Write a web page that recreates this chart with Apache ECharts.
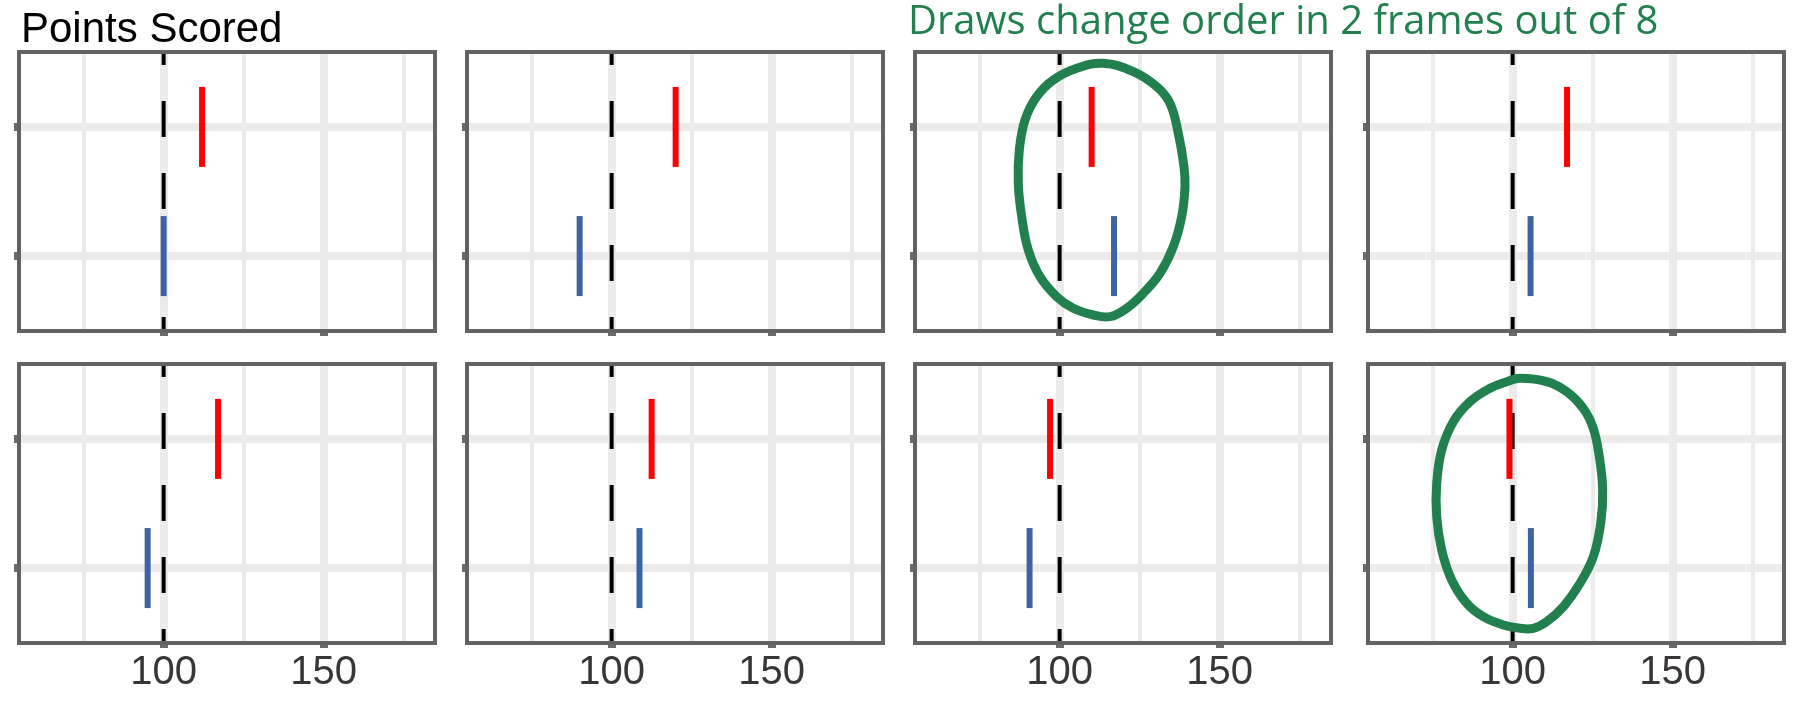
<!DOCTYPE html>
<html><head><meta charset="utf-8">
<script src="https://cdn.jsdelivr.net/npm/echarts@6/dist/echarts.min.js"></script>
<style>html,body{margin:0;padding:0;background:#fff}#c{width:1800px;height:702px}</style>
</head><body><div id="c"></div>
<script>
// ---- data ----
const frames = [1, 2, 3, 4, 5, 6, 7, 8];
const redScores  = [112, 120, 110, 117, 117, 112.5, 97, 99];     // top category
const blueScores = [100, 90, 117, 105.6, 95, 108.7, 90.6, 105.7]; // bottom category
const teamPos = { red: 2, blue: 1 };
const majorTicks = [100, 150];
const minorTicks = [75, 125, 175];
const refValue = 100;
const xRange = [54.8, 184.8];
const yRange = [0.42, 2.58];
const titleText = 'Points Scored';
const noteText = 'Draws change order in 2 frames out of 8';
const circledFrames = [3, 8];

// ---- layout ----
const colLeft = [19, 467, 915, 1368];
const rowTop = [52, 364];
const W = 416, H = 279;
const grid = '#ecebe9', border = '#636363', green = '#22804f';

const grids = [], xAxes = [], yAxes = [], series = [], graphics = [];
frames.forEach((f, i) => {
  const r = Math.floor(i / 4), c = i % 4;
  const bottomRow = r === 1;
  grids.push({ left: colLeft[c], top: rowTop[r], width: W, height: H, containLabel: false });
  xAxes.push({
    type: 'value', gridIndex: i, min: xRange[0], max: xRange[1], position: 'bottom',
    axisLine: { show: false },
    axisTick: { show: true, customValues: majorTicks, length: 5, lineStyle: { color: '#6a6a6a', width: 8 } },
    axisLabel: { show: bottomRow, customValues: majorTicks, margin: 10, fontSize: 40,
                 fontFamily: 'Liberation Sans', color: '#3a3536' },
    splitLine: { show: true, lineStyle: { color: grid, width: 8 } }
  });
  xAxes.push({
    type: 'value', gridIndex: i, min: xRange[0], max: xRange[1], position: 'top',
    axisLine: { show: false },
    axisTick: { show: false, customValues: minorTicks },
    axisLabel: { show: false, customValues: minorTicks },
    splitLine: { show: true, lineStyle: { color: grid, width: 4 } }
  });
  yAxes.push({
    type: 'value', gridIndex: i, min: yRange[0], max: yRange[1],
    axisLine: { show: false },
    axisTick: { show: true, customValues: [teamPos.blue, teamPos.red], length: 5, lineStyle: { color: '#6a6a6a', width: 8 } },
    axisLabel: { show: false, customValues: [teamPos.blue, teamPos.red] },
    splitLine: { show: true, lineStyle: { color: grid, width: 8 } }
  });
  series.push({
    type: 'line', xAxisIndex: 2 * i, yAxisIndex: i, z: 2,
    data: [[refValue, yRange[0]], [refValue, yRange[1]]],
    symbol: 'none', silent: true,
    lineStyle: { color: '#000', width: 4, type: [36, 36], dashOffset: 22 }
  });
  series.push({
    type: 'scatter', xAxisIndex: 2 * i, yAxisIndex: i, z: 3,
    symbol: 'rect', symbolSize: [6, 80],
    itemStyle: { color: '#ff0000', opacity: 1 },
    data: [[redScores[i], teamPos.red]]
  });
  series.push({
    type: 'scatter', xAxisIndex: 2 * i, yAxisIndex: i, z: 3,
    symbol: 'rect', symbolSize: [6, 80],
    itemStyle: { color: '#3c64a5', opacity: 1 },
    data: [[blueScores[i], teamPos.blue]]
  });
  graphics.push({
    type: 'rect', z: 50, silent: true,
    shape: { x: colLeft[c], y: rowTop[r], width: W, height: H },
    style: { fill: 'none', stroke: border, lineWidth: 4 }
  });
});

// hand-drawn loops (annotation outline, page pixels)
const loopShapes = {
  3: [[1103.3,63.3],[1133.3,71.7],[1156.7,86.7],[1170,103.3],[1178.3,133.3],[1184,166.7],[1185,186.7],[1181.7,216.7],[1173.3,246.7],[1160,273.3],[1143.3,293.3],[1126.7,308.3],[1110,316.7],[1093.3,315],[1073.3,308.3],[1056.7,296.7],[1040,276.7],[1028.3,250],[1021.7,216.7],[1018.3,183.3],[1019.3,150],[1025,120],[1036.7,96.7],[1053.3,80],[1076.7,68.3]],
  8: [[1520,378.3],[1546.7,381.7],[1566.7,391.7],[1583.3,408.3],[1593.3,428.3],[1599.3,456.7],[1602.7,490],[1600.7,523.3],[1593.3,556.7],[1580,583.3],[1563.3,606.7],[1546.7,621.7],[1533.3,628.3],[1520,628.3],[1503.3,625],[1483.3,616.7],[1466.7,603.3],[1451.7,580],[1441.7,550],[1436.7,516.7],[1436.7,483.3],[1441.7,450],[1453.3,421.7],[1470,401.7],[1490,388.3],[1506.7,381.7]]
};
circledFrames.forEach(f => {
  graphics.push({
    type: 'polygon', z: 60, silent: true,
    shape: { points: loopShapes[f], smooth: 0.4 },
    style: { fill: 'none', stroke: green, lineWidth: 9 }
  });
});

const chart = echarts.init(document.getElementById('c'), null, { renderer: 'canvas' });
chart.setOption({
  animation: false,
  backgroundColor: '#fff',
  title: [
    { text: titleText, left: 21, top: 9, padding: 0,
      textStyle: { fontFamily: 'Liberation Sans', fontWeight: 'normal', fontSize: 42, color: '#000' } },
    { text: noteText, left: 908, top: 3, padding: 0,
      textStyle: { fontFamily: 'Open Sans', fontWeight: 'normal', fontSize: 40, color: green } }
  ],
  grid: grids, xAxis: xAxes, yAxis: yAxes, series: series, graphic: graphics
});
</script></body></html>
